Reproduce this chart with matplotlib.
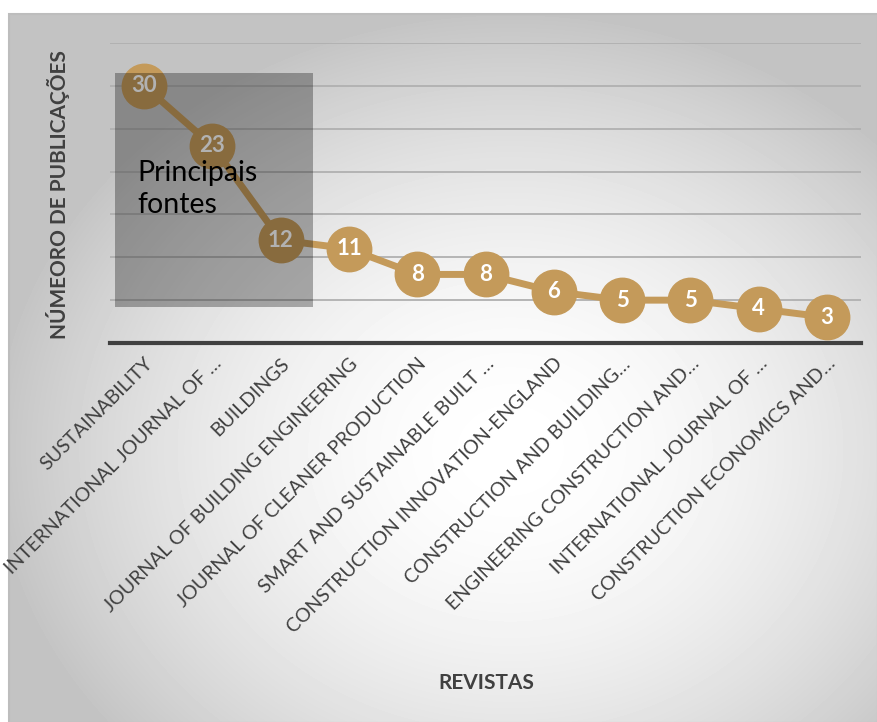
import numpy as np
import matplotlib
matplotlib.use("Agg")
import matplotlib.pyplot as plt
import matplotlib.transforms as mtransforms
from matplotlib.patches import Rectangle

plt.rcParams['font.family'] = ['Lato', 'DejaVu Sans']

# dados
revistas = [
    "SUSTAINABILITY",
    "INTERNATIONAL JOURNAL OF …",
    "BUILDINGS",
    "JOURNAL OF BUILDING ENGINEERING",
    "JOURNAL OF CLEANER PRODUCTION",
    "SMART AND SUSTAINABLE BUILT …",
    "CONSTRUCTION INNOVATION-ENGLAND",
    "CONSTRUCTION AND BUILDING…",
    "ENGINEERING CONSTRUCTION AND…",
    "INTERNATIONAL JOURNAL OF …",
    "CONSTRUCTION ECONOMICS AND…",
]
publicacoes = [30, 23, 12, 11, 8, 8, 6, 5, 5, 4, 3]
grade = [5, 10, 15, 20, 25, 30, 35]

W, H = 877, 722
fig = plt.figure(figsize=(W / 100, H / 100), dpi=100)

# fundo com gradiente radial
bg = fig.add_axes([0, 0, 1, 1], zorder=-10)
yy, xx = np.mgrid[0:H, 0:W]
r = np.sqrt(((xx - 510) / 520.0) ** 2 + ((yy - 450) / 440.0) ** 2)
r = np.clip(r, 0, 1)
val = (255 - 60 * r ** 1.8) / 255.0
val[:, :8] = 1.0
val[:13, :] = 1.0
bg.imshow(val, cmap='gray', vmin=0, vmax=1, aspect='auto', interpolation='bilinear')
bg.axis('off')
bg.add_patch(Rectangle((8, 13), W - 8, H - 13, fill=False, edgecolor='#BDBDBD', lw=1.5))

# gráfico
ax = fig.add_axes([110 / W, 1 - 343 / H, 751 / W, 300 / H])
ax.set_facecolor('none')
x = np.arange(len(revistas))
ax.plot(x, publicacoes, color='#C49A5A', lw=5, marker='o', markersize=32,
        markerfacecolor='#C49A5A', markeredgecolor='#C49A5A', clip_on=False, zorder=3)
for xi, v in zip(x, publicacoes):
    ax.text(xi, v, str(v), ha='center', va='center', color='white',
            fontsize=16, fontweight='bold', zorder=4)

ax.set_xlim(-0.5, len(revistas) - 0.5)
ax.set_ylim(0, 35)
ax.set_yticks(grade)
ax.set_yticklabels([])
ax.tick_params(axis='y', length=0)
ax.grid(axis='y', color='#B0B0B0', lw=1.3)
ax.set_axisbelow(True)
for s in ['top', 'right', 'left']:
    ax.spines[s].set_visible(False)
ax.spines['bottom'].set_color('#404040')
ax.spines['bottom'].set_linewidth(3)

ax.set_xticks(x)
ax.set_xticklabels(revistas, rotation=45, ha='right', va='center',
                   rotation_mode='anchor', fontsize=14, color='#404040')
ax.tick_params(axis='x', length=0, pad=13)
desloc = mtransforms.ScaledTranslation(0.06, 0, fig.dpi_scale_trans)
for lbl in ax.get_xticklabels():
    lbl.set_transform(lbl.get_transform() + desloc)

fig.text(58 / W, 1 - 195 / H, "NÚMEORO DE PUBLICAÇÕES", rotation=90, ha='center', va='center',
         fontsize=15, fontweight='bold', color='#404040')
fig.text(486 / W, 1 - 683 / H, "REVISTAS", ha='center', va='center',
         fontsize=15, fontweight='bold', color='#404040')

# destaque principais fontes
fig.patches.append(Rectangle((115 / W, 1 - 307 / H), 198 / W, 234 / H,
                             transform=fig.transFigure, facecolor='black', alpha=0.3,
                             edgecolor='none', zorder=5))
fig.text(137 / W, 1 - 160 / H, "Principais\nfontes", ha='left', va='top',
         fontsize=20.5, color='black', linespacing=1.3, zorder=6)

fig.savefig("out.png", dpi=100)
